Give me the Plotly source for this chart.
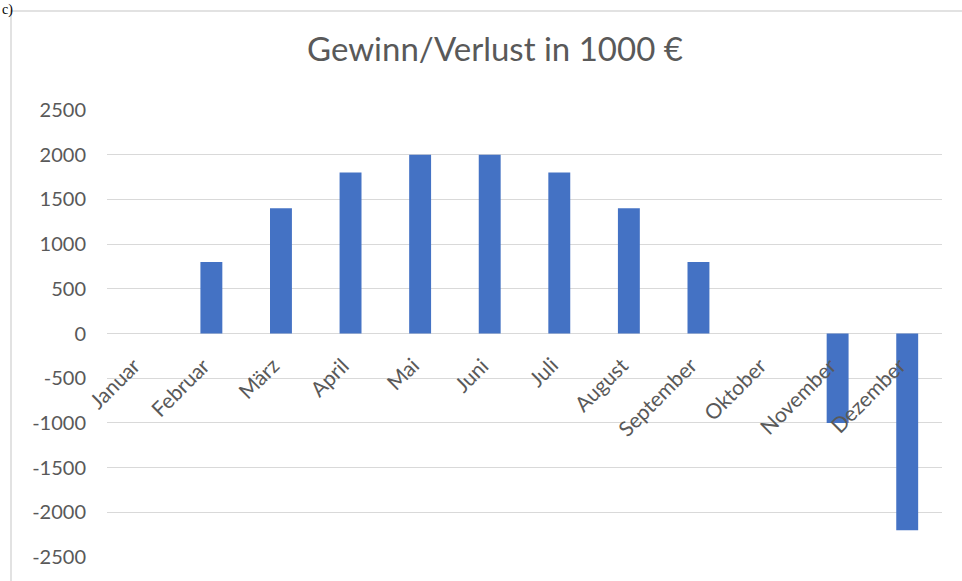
import plotly.graph_objects as go

months = ["Januar", "Februar", "März", "April", "Mai", "Juni", "Juli",
          "August", "September", "Oktober", "November", "Dezember"]
values = [0, 800, 1400, 1800, 2000, 2000, 1800, 1400, 800, 0, -1000, -2200]
y_ticks = [-2500, -2000, -1500, -1000, -500, 0, 500, 1000, 1500, 2000, 2500]
title_text = "Gewinn/Verlust in 1000 €"

W, H = 962, 581
L, R, T, B = 107, 20, 110, 24
pw, ph = W - L - R, H - T - B

fig = go.Figure(go.Bar(x=months, y=values, marker=dict(color="#4472C4", line=dict(width=0)),
                       hoverinfo="x+y"))

annotations = []
for m in months:
    annotations.append(dict(x=m, y=0, xref="x", yref="y", text=m, showarrow=False,
                            textangle=-45, xanchor="right", yanchor="top",
                            xshift=6, yshift=-16,
                            font=dict(family="Lato", size=21, color="#595959")))
annotations.append(dict(x=(495 - L) / pw, y=1 + (T - 48) / ph, xref="paper", yref="paper",
                        text=title_text, showarrow=False, xanchor="center", yanchor="middle",
                        font=dict(family="Lato", size=33, color="#595959")))
annotations.append(dict(x=(0 - L) / pw, y=1 + T / ph, xref="paper", yref="paper",
                        text="c)", showarrow=False, xanchor="left", yanchor="top",
                        font=dict(family="Liberation Serif", size=14, color="#000000")))

fig.update_layout(
    width=W, height=H,
    margin=dict(l=L, r=R, t=T, b=B),
    paper_bgcolor="white", plot_bgcolor="white",
    bargap=0.685,
    showlegend=False,
    annotations=annotations,
    shapes=[dict(type="rect", xref="paper", yref="paper",
                 x0=(11 - L) / pw, x1=(W + 20 - L) / pw,
                 y0=-(B + 20) / ph, y1=1 + (T - 11) / ph,
                 line=dict(color="#D9D9D9", width=1.5), layer="below")],
    xaxis=dict(range=[-0.5, len(months) - 0.5], autorange=False,
               showticklabels=False, showgrid=False, zeroline=False, showline=False,
               ticks=""),
    yaxis=dict(range=[-2500, 2500], autorange=False,
               tickvals=y_ticks, ticktext=[str(v) for v in y_ticks],
               showgrid=True, gridcolor="#D9D9D9", gridwidth=1,
               zeroline=True, zerolinecolor="#D9D9D9", zerolinewidth=1,
               showline=False, ticks="", ticklabelstandoff=20,
               tickfont=dict(family="Lato", size=20, color="#595959")),
)

fig.write_html("out.html", config={"displayModeBar": False},
               post_script="document.body.style.margin='0';document.body.style.overflow='hidden';")
